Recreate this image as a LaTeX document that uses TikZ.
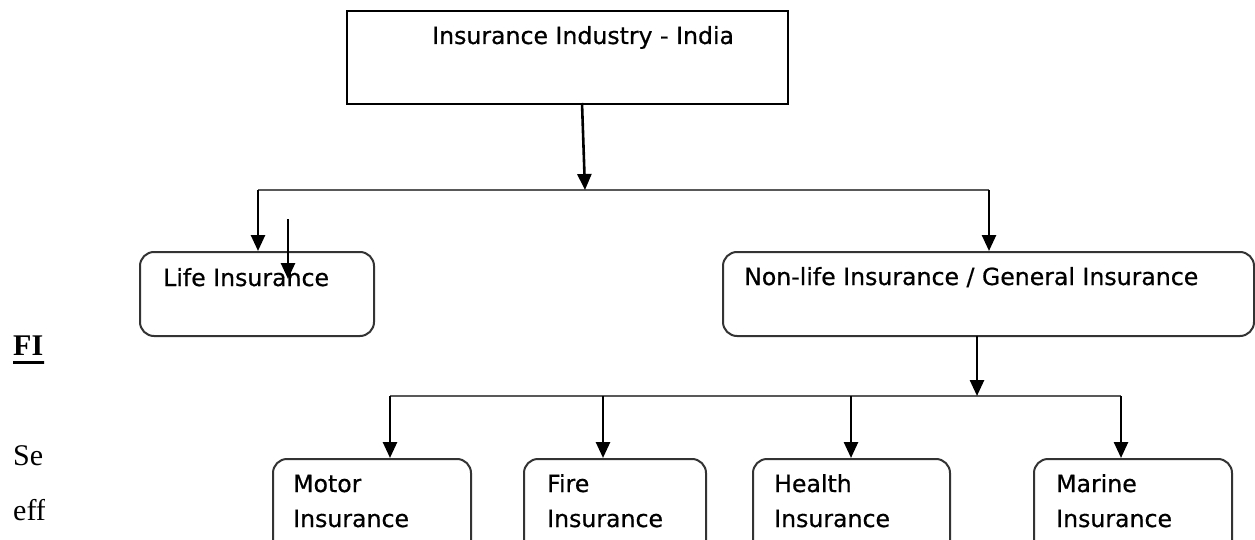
\documentclass[tikz,border=0pt]{standalone}
\usepackage{fontspec}
\setmainfont[FakeBold=0.6]{DejaVu Sans}
\newfontfamily\serifx{Liberation Serif}
\usetikzlibrary{arrows.meta,calc}
\begin{document}
\begin{tikzpicture}[x=1pt,y=-1pt,
  sqbox/.style={draw=black,line width=2.4pt,minimum width=441pt,minimum height=93pt,anchor=north west,inner sep=0pt},
  rbox/.style={draw=black!80,line width=2pt,rounded corners=14pt,anchor=north west,inner sep=0pt},
  lbl/.style={anchor=base west,inner sep=0pt,font=\fontsize{23.6}{35}\selectfont},
  arr/.style={line width=2.6pt,-{Triangle[width=14pt,length=16pt]}},
  bus/.style={draw=black!65,line width=2pt},
  side/.style={anchor=base west,inner sep=0pt}
]
\useasboundingbox (0,0) rectangle (1255,540);
\clip (0,0) rectangle (1255,540);
\fill[white] (0,0) rectangle (1255,540);

% left margin text (clipped)
\begin{scope}
\clip (0,300) rectangle (44,540);
\node[side,font=\serifx\bfseries\fontsize{30}{30}\selectfont] (fi) at (13,355) {FI};
\fill (13,361) rectangle (60,364);
\node[side,font=\serifx\fontsize{30}{30}\selectfont] (se) at (13,465) {Se};
\node[side,font=\serifx\fontsize{30}{30}\selectfont] (eff) at (13,520) {eff};
\end{scope}

% boxes
\node[sqbox] (top) at (346,10) {};
\node[lbl] (toptxt) at (432,44) {Insurance Industry - India};

\node[rbox,minimum width=234pt,minimum height=84pt] (life) at (139,251) {};
\node[lbl] (lifetxt) at (163,286) {Life Insurance};

\node[rbox,minimum width=531pt,minimum height=84pt] (gen) at (722,251) {};
\node[lbl] (gentxt) at (744,285) {Non-life Insurance / General Insurance};

\node[rbox,minimum width=198pt,minimum height=120pt] (motor) at (272,458) {};
\node[lbl] (motortxt) at (293,492) {Motor};
\node[lbl] (motortxt2) at (293,527) {Insurance};

\node[rbox,minimum width=182pt,minimum height=120pt] (fire) at (523,458) {};
\node[lbl] (firetxt) at (547,492) {Fire};
\node[lbl] (firetxt2) at (547,527) {Insurance};

\node[rbox,minimum width=197pt,minimum height=120pt] (health) at (752,458) {};
\node[lbl] (healthtxt) at (774,492) {Health};
\node[lbl] (healthtxt2) at (774,527) {Insurance};

\node[rbox,minimum width=198pt,minimum height=120pt] (marine) at (1033,458) {};
\node[lbl] (marinetxt) at (1056,492) {Marine};
\node[lbl] (marinetxt2) at (1056,527) {Insurance};

% connectors
\coordinate (ts) at (582,103);
\coordinate (j1) at (585,190);
\coordinate (b1l) at (258,190);
\coordinate (b1r) at (989,190);
\draw[bus] (b1l) -- (b1r);
\draw[arr] (ts) -- (j1);
\draw[arr] (b1l) -- (b1l |- life.north);
\draw[arr] (b1r) -- (b1r |- gen.north);
\coordinate (s1) at (288,219);
\coordinate (s2) at (288,279);
\draw[arr] (s1) -- (s2);

\coordinate (g1) at (977,336);
\coordinate (j2) at (977,396);
\coordinate (b2l) at (390,396);
\coordinate (b2r) at (1121,396);
\draw[bus] (b2l) -- (b2r);
\draw[arr] (g1) -- (j2);
\draw[arr] (b2l) -- (b2l |- motor.north);
\draw[arr] (603,396) -- (603,458);
\draw[arr] (851,396) -- (851,458);
\draw[arr] (b2r) -- (b2r |- marine.north);
\end{tikzpicture}
\end{document}
